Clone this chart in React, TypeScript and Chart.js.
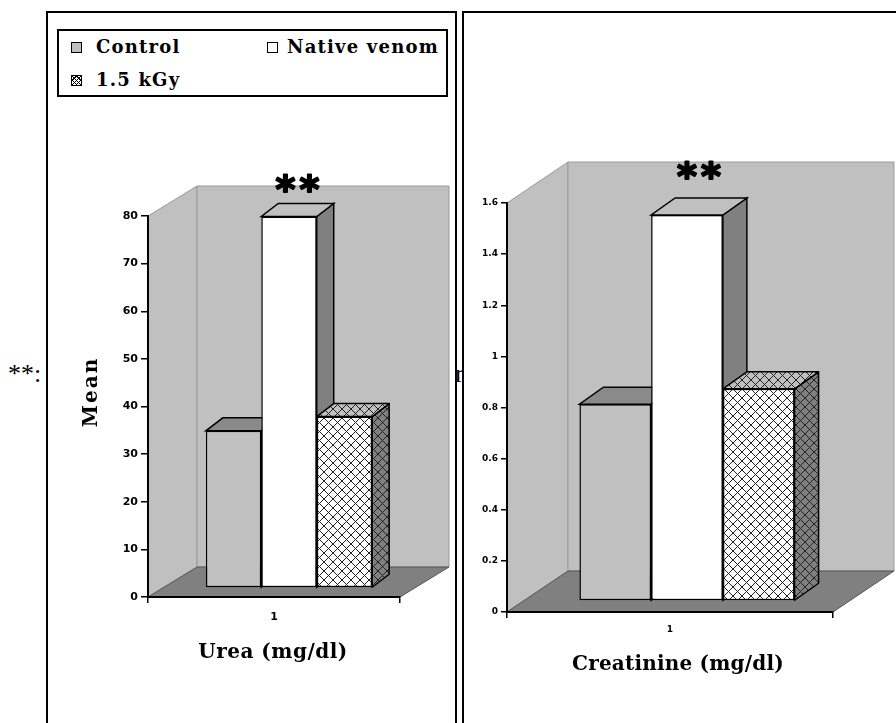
import React, { useEffect, useRef } from 'react';
import { Chart, registerables } from 'chart.js';
Chart.register(...registerables);

// ---- data ----
const categories = ['1'];
const seriesNames = ['Control', 'Native venom', '1.5 kGy'];
const ureaValues = [33, 78, 36];
const creatinineValues = [0.77, 1.51, 0.83];
const significance = ['', '**', ''];
const ureaTickValues = [0, 10, 20, 30, 40, 50, 60, 70, 80];
const ureaTickLabels = ['0', '10', '20', '30', '40', '50', '60', '70', '80'];
const creatinineTickValues = [0, 0.2, 0.4, 0.6, 0.8, 1, 1.2, 1.4, 1.6];
const creatinineTickLabels = ['0', '0.2', '0.4', '0.6', '0.8', '1', '1.2', '1.4', '1.6'];
const ureaTitle = 'Urea (mg/dl)';
const creatinineTitle = 'Creatinine (mg/dl)';
const yTitle = 'Mean';

function hatch(bg: string): CanvasPattern {
  const c = document.createElement('canvas');
  c.width = 9;
  c.height = 9;
  const g = c.getContext('2d')!;
  g.fillStyle = bg;
  g.fillRect(0, 0, 9, 9);
  g.strokeStyle = '#222';
  g.lineWidth = 1;
  g.beginPath();
  g.moveTo(0, 0);
  g.lineTo(9, 9);
  g.moveTo(9, 0);
  g.lineTo(0, 9);
  g.stroke();
  return g.createPattern(c, 'repeat')!;
}

function poly(ctx: CanvasRenderingContext2D, pts: number[][], fill: any, stroke?: string, lw = 1) {
  ctx.beginPath();
  ctx.moveTo(pts[0][0], pts[0][1]);
  for (let i = 1; i < pts.length; i++) ctx.lineTo(pts[i][0], pts[i][1]);
  ctx.closePath();
  if (fill) {
    ctx.fillStyle = fill;
    ctx.fill();
  }
  if (stroke) {
    ctx.strokeStyle = stroke;
    ctx.lineWidth = lw;
    ctx.stroke();
  }
}

type Geo = {
  w: number;
  h: number;
  pad: { left: number; right: number; top: number; bottom: number };
  yWidth: number;
  yTickLen: number;
  xPad: number;
  tickFont: number;
  wall: [number, number];
  off: [number, number];
  depth: [number, number];
  starGap: number;
};

function ChartPanel(props: {
  values: number[];
  tickValues: number[];
  tickLabels: string[];
  geo: Geo;
  left: number;
  top: number;
}) {
  const ref = useRef<HTMLCanvasElement>(null);
  useEffect(() => {
    const canvas = ref.current!;
    const { geo, values, tickValues, tickLabels } = props;
    const front: any[] = ['#c0c0c0', '#ffffff', hatch('#ffffff')];
    const topFill: any[] = ['#8a8a8a', '#c0c0c0', hatch('#c0c0c0')];
    const sideFill: any[] = ['#606060', '#808080', hatch('#808080')];

    const plugin = {
      id: 'bars3d',
      beforeDraw(chart: any) {
        const ctx: CanvasRenderingContext2D = chart.ctx;
        const { left, right, top, bottom } = chart.chartArea;
        const [DX, DY] = geo.wall;
        ctx.save();
        poly(ctx, [[left, top], [left + DX, top + DY], [left + DX, bottom + DY], [left, bottom]], '#c0c0c0', '#9a9a9a', 1);
        poly(ctx, [[left + DX, top + DY], [right + DX, top + DY], [right + DX, bottom + DY], [left + DX, bottom + DY]], '#c0c0c0', '#9a9a9a', 1);
        poly(ctx, [[left, bottom], [right, bottom], [right + DX, bottom + DY], [left + DX, bottom + DY]], '#808080', '#555', 1);
        ctx.restore();
      },
      beforeDatasetDraw() {
        return false;
      },
      afterDatasetsDraw(chart: any) {
        const ctx: CanvasRenderingContext2D = chart.ctx;
        const [ox, oy] = geo.off;
        const [dx, dy] = geo.depth;
        ctx.save();
        ctx.translate(ox, oy);
        chart.data.datasets.forEach((_ds: any, i: number) => {
          const meta = chart.getDatasetMeta(i);
          meta.data.forEach((el: any) => {
            const x = el.x, y = el.y, base = el.base, width = el.width;
            const l = x - width / 2;
            const r = x + width / 2;
            el.draw(ctx);
            poly(ctx, [[r, y], [r + dx, y + dy], [r + dx, base + dy], [r, base]], sideFill[i], '#000', 1.5);
            poly(ctx, [[l, y], [r, y], [r + dx, y + dy], [l + dx, y + dy]], topFill[i], '#000', 1.5);
            const mark = significance[i];
            if (mark) {
              const cx = x + dx / 2;
              const cy = y + dy - geo.starGap;
              ctx.font = 'bold 38px "DejaVu Sans"';
              ctx.fillStyle = '#000';
              ctx.strokeStyle = '#000';
              ctx.lineWidth = 2;
              ctx.lineJoin = 'round';
              ctx.textAlign = 'center';
              ctx.textBaseline = 'alphabetic';
              const m = ctx.measureText('*');
              const A = m.actualBoundingBoxAscent;
              const D = m.actualBoundingBoxDescent;
              const b = cy + (A - D) / 2;
              const n = mark.length;
              for (let k = 0; k < n; k++) {
                const px = cx + (k - (n - 1) / 2) * 24;
                ctx.fillText('*', px, b);
                ctx.strokeText('*', px, b);
              }
            }
          });
        });
        ctx.restore();
      },
    };

    const tickFont = { family: 'DejaVu Sans', size: geo.tickFont, weight: 'bold' as const };
    const chart = new Chart(canvas, {
      type: 'bar',
      data: {
        labels: categories,
        datasets: seriesNames.map((n, i) => ({
          label: n,
          data: [values[i]],
          backgroundColor: front[i],
          borderColor: '#000',
          borderWidth: 1.5,
          borderSkipped: false,
          categoryPercentage: 0.66,
          barPercentage: 1,
        })),
      },
      options: {
        responsive: false,
        animation: false,
        events: [],
        layout: { padding: geo.pad },
        plugins: { legend: { display: false }, tooltip: { enabled: false } },
        scales: {
          x: {
            grid: { drawOnChartArea: false, drawTicks: true, tickLength: 6, color: '#000', lineWidth: 1.5 },
            border: { display: true, color: '#000', width: 2 },
            ticks: { color: '#000', font: tickFont, padding: geo.xPad, maxRotation: 0 },
            afterFit: (s: any) => {
              s.height = 40;
            },
          },
          y: {
            min: tickValues[0],
            max: tickValues[tickValues.length - 1],
            afterBuildTicks: (s: any) => {
              s.ticks = tickValues.map((v) => ({ value: v }));
            },
            grid: { drawOnChartArea: false, drawTicks: true, tickLength: geo.yTickLen, color: '#000', lineWidth: 1.5 },
            border: { display: true, color: '#000', width: 2 },
            ticks: {
              color: '#000',
              font: tickFont,
              padding: 3,
              autoSkip: false,
              callback: (_v: any, idx: number) => tickLabels[idx],
            },
            afterFit: (s: any) => {
              s.width = geo.yWidth;
            },
          },
        },
      },
      plugins: [plugin],
    } as any);
    return () => chart.destroy();
  }, []);
  return (
    <canvas
      ref={ref}
      width={props.geo.w}
      height={props.geo.h}
      style={{ position: 'absolute', left: props.left, top: props.top, width: props.geo.w, height: props.geo.h }}
    />
  );
}

const leftGeo: Geo = {
  w: 407,
  h: 710,
  pad: { left: 0, right: 55, top: 203, bottom: 86 },
  yWidth: 100,
  yTickLen: 7,
  xPad: 8,
  tickFont: 11,
  wall: [49, -30],
  off: [15, -9],
  depth: [17, -13],
  starGap: 21,
};

const rightGeo: Geo = {
  w: 432,
  h: 710,
  pad: { left: 0, right: 63, top: 190, bottom: 71 },
  yWidth: 43,
  yTickLen: 6,
  xPad: 6,
  tickFont: 9,
  wall: [61, -41],
  off: [17, -11],
  depth: [24, -17],
  starGap: 28,
};

const serif = '"DejaVu Serif", serif';

function Swatch(props: { left: number; top: number; bg: string }) {
  return (
    <div
      style={{
        position: 'absolute',
        left: props.left,
        top: props.top,
        width: 11,
        height: 11,
        boxSizing: 'border-box',
        border: '1px solid #000',
        background: props.bg,
      }}
    />
  );
}

function LegendText(props: { left: number; cy: number; text: string }) {
  return (
    <div
      style={{
        position: 'absolute',
        left: props.left,
        top: props.cy - 11,
        height: 22,
        lineHeight: '22px',
        font: `bold 18px ${serif}`,
        letterSpacing: '1.2px',
        whiteSpace: 'nowrap',
        color: '#000',
      }}
    >
      {props.text}
    </div>
  );
}

export default function App() {
  const hatchCss =
    'repeating-linear-gradient(45deg, #000 0 1px, transparent 1px 3px), repeating-linear-gradient(-45deg, #000 0 1px, #fff 1px 3px)';
  return (
    <div style={{ position: 'absolute', left: 0, top: 0, width: 896, height: 723, overflow: 'hidden', background: '#fff' }}>
      <div style={{ position: 'absolute', left: 8, top: 361, font: '26px "Liberation Serif", serif', lineHeight: '26px', color: '#000' }}>
        **:
      </div>
      <div style={{ position: 'absolute', left: 455, top: 361, font: '26px "Liberation Serif", serif', lineHeight: '26px', color: '#000' }}>
        r
      </div>
      <div
        style={{
          position: 'absolute',
          left: 46,
          top: 11,
          width: 411,
          height: 800,
          boxSizing: 'border-box',
          border: '2px solid #000',
        }}
      />
      <div
        style={{
          position: 'absolute',
          left: 462,
          top: 11,
          width: 460,
          height: 800,
          boxSizing: 'border-box',
          border: '2px solid #000',
        }}
      />
      <ChartPanel values={ureaValues} tickValues={ureaTickValues} tickLabels={ureaTickLabels} geo={leftGeo} left={48} top={13} />
      <ChartPanel
        values={creatinineValues}
        tickValues={creatinineTickValues}
        tickLabels={creatinineTickLabels}
        geo={rightGeo}
        left={464}
        top={13}
      />
      {/* legend */}
      <div
        style={{
          position: 'absolute',
          left: 57,
          top: 29,
          width: 391,
          height: 68,
          boxSizing: 'border-box',
          border: '2px solid #000',
          background: '#fff',
        }}
      />
      <Swatch left={71} top={42} bg="#c0c0c0" />
      <LegendText left={96} cy={47} text={seriesNames[0]} />
      <Swatch left={267} top={42} bg="#fff" />
      <LegendText left={287} cy={47} text={seriesNames[1]} />
      <Swatch left={71} top={75} bg={hatchCss} />
      <LegendText left={96} cy={80} text={seriesNames[2]} />
      {/* axis titles */}
      <div
        style={{
          position: 'absolute',
          left: 123,
          width: 300,
          top: 639,
          lineHeight: '24px',
          textAlign: 'center',
          font: `bold 20px ${serif}`,
          letterSpacing: '0.5px',
          color: '#000',
        }}
      >
        {ureaTitle}
      </div>
      <div
        style={{
          position: 'absolute',
          left: 528,
          width: 300,
          top: 651,
          lineHeight: '24px',
          textAlign: 'center',
          font: `bold 20px ${serif}`,
          letterSpacing: '0.2px',
          color: '#000',
        }}
      >
        {creatinineTitle}
      </div>
      <div
        style={{
          position: 'absolute',
          left: 90 - 60,
          top: 392 - 12,
          width: 120,
          height: 24,
          lineHeight: '24px',
          textAlign: 'center',
          font: `bold 20px ${serif}`,
          letterSpacing: '2px',
          color: '#000',
          transform: 'rotate(-90deg)',
        }}
      >
        {yTitle}
      </div>
    </div>
  );
}
